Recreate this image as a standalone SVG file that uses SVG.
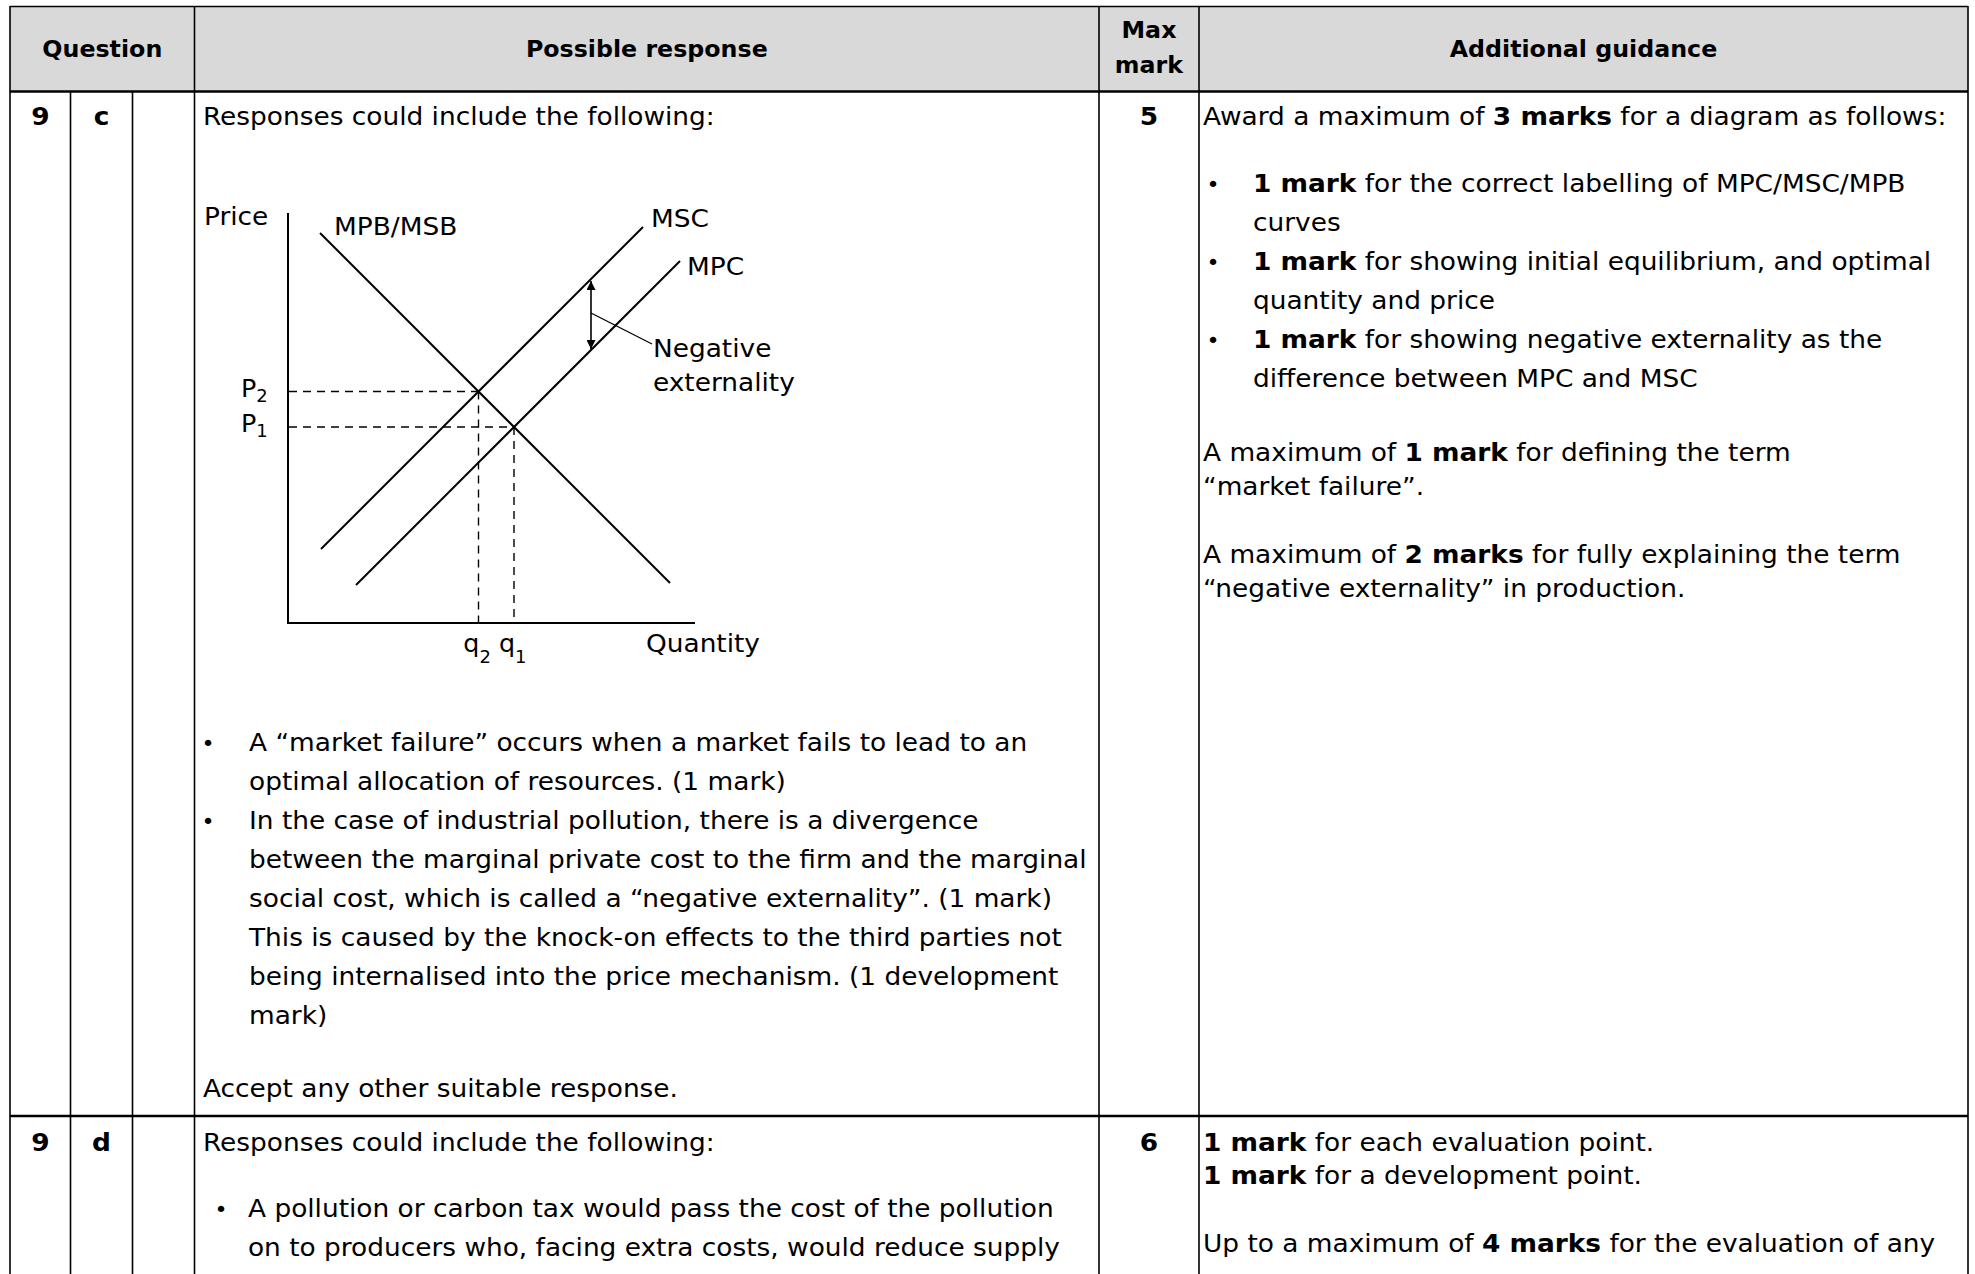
<svg xmlns="http://www.w3.org/2000/svg" width="1975" height="1274" viewBox="0 0 1975 1274">
<style>
text{font-family:"DejaVu Sans","Liberation Sans",sans-serif;fill:#000}
.b{font-size:25px}
.h{font-size:23.5px;font-weight:700}
.bd{font-weight:700}
.c{text-anchor:middle}
.bl{font-size:21px;text-anchor:middle}
.pl{font-size:24px}
.sub{font-size:17px}
.grid{stroke:#000;stroke-width:1.6;fill:none}
.thick{stroke:#000;stroke-width:2.6;fill:none}
.crv{stroke:#000;stroke-width:2;fill:none}
.dash{stroke:#000;stroke-width:1.4;stroke-dasharray:8 6;fill:none}
</style>
<defs>
<marker id="ah" viewBox="0 0 10 10" refX="10" refY="5" markerUnits="userSpaceOnUse" markerWidth="14" markerHeight="9" orient="auto-start-reverse">
<path d="M0,0 L10,5 L0,10 z" fill="#000"/>
</marker>
</defs>
<rect width="1975" height="1274" fill="#fff"/>
<g id="table">
<rect x="10" y="6.5" width="1958" height="85" fill="#d9d9d9"/>
<line class="grid" x1="10" y1="6.5" x2="1968" y2="6.5"/>
<line class="thick" x1="10" y1="91.5" x2="1968" y2="91.5"/>
<line class="thick" x1="10" y1="1116" x2="1968" y2="1116"/>
<line class="grid" x1="10" y1="6" x2="10" y2="1274"/>
<line class="grid" x1="70.5" y1="91.5" x2="70.5" y2="1274"/>
<line class="grid" x1="132.5" y1="91.5" x2="132.5" y2="1274"/>
<line class="grid" x1="194.5" y1="6" x2="194.5" y2="1274"/>
<line class="grid" x1="1099" y1="6" x2="1099" y2="1274"/>
<line class="grid" x1="1199" y1="6" x2="1199" y2="1274"/>
<line class="grid" x1="1968" y1="6" x2="1968" y2="1274"/>
</g>
<g id="header">
<g transform="scale(1.01 1)">
<text class="h c" x="101.3" y="57">Question</text>
<text class="h c" x="640.4" y="57">Possible response</text>
<text class="h c" x="1137.6" y="38">Max</text>
<text class="h c" x="1137.6" y="73">mark</text>
<text class="h c" x="1567.8" y="57">Additional guidance</text>
</g>
</g>
<g id="row-9c">
<g transform="scale(1.056 1)">
<text class="b bd c" x="38.35" y="125">9</text>
<text class="b bd c" x="96.12" y="125">c</text>
<text class="b bd c" x="1088.07" y="125">5</text>
<text class="b" x="192.23" y="125">Responses could include the following:</text>
<text class="bl" x="196.97" y="751">•</text>
<text class="b" x="235.8" y="751">A “market failure” occurs when a market fails to lead to an</text>
<text class="b" x="235.8" y="790">optimal allocation of resources. (1 mark)</text>
<text class="bl" x="196.97" y="829">•</text>
<text class="b" x="235.8" y="829">In the case of industrial pollution, there is a divergence</text>
<text class="b" x="235.8" y="868">between the marginal private cost to the firm and the marginal</text>
<text class="b" x="235.8" y="907">social cost, which is called a “negative externality”. (1 mark)</text>
<text class="b" x="235.8" y="946">This is caused by the knock-on effects to the third parties not</text>
<text class="b" x="235.8" y="985">being internalised into the price mechanism. (1 development</text>
<text class="b" x="235.8" y="1024">mark)</text>
<text class="b" x="192.23" y="1097">Accept any other suitable response.</text>
<text class="b" x="1139.2" y="125">Award a maximum of <tspan class="bd">3 marks</tspan> for a diagram as follows:</text>
<text class="bl" x="1148.67" y="192">•</text>
<text class="b" x="1186.55" y="192"><tspan class="bd">1 mark</tspan> for the correct labelling of MPC/MSC/MPB</text>
<text class="b" x="1186.55" y="231">curves</text>
<text class="bl" x="1148.67" y="270">•</text>
<text class="b" x="1186.55" y="270"><tspan class="bd">1 mark</tspan> for showing initial equilibrium, and optimal</text>
<text class="b" x="1186.55" y="309">quantity and price</text>
<text class="bl" x="1148.67" y="348">•</text>
<text class="b" x="1186.55" y="348"><tspan class="bd">1 mark</tspan> for showing negative externality as the</text>
<text class="b" x="1186.55" y="387">difference between MPC and MSC</text>
<text class="b" x="1139.2" y="461">A maximum of <tspan class="bd">1 mark</tspan> for defining the term</text>
<text class="b" x="1139.2" y="495">“market failure”.</text>
<text class="b" x="1139.2" y="563">A maximum of <tspan class="bd">2 marks</tspan> for fully explaining the term</text>
<text class="b" x="1139.2" y="597">“negative externality” in production.</text>
</g>
</g>
<g id="diagram">
<line class="crv" x1="288" y1="213" x2="288" y2="623"/>
<line class="crv" x1="287" y1="623" x2="695" y2="623"/>
<line class="crv" x1="320" y1="233" x2="670" y2="583"/>
<line class="crv" x1="321" y1="549" x2="643" y2="227"/>
<line class="crv" x1="356" y1="585" x2="680" y2="261"/>
<line class="dash" x1="289" y1="391.5" x2="478.5" y2="391.5"/>
<line class="dash" x1="289" y1="427" x2="514" y2="427"/>
<line class="dash" x1="478.5" y1="391.5" x2="478.5" y2="622"/>
<line class="dash" x1="514" y1="427" x2="514" y2="622"/>
<line stroke="#000" stroke-width="1.6" x1="591" y1="281" x2="591" y2="349" marker-start="url(#ah)" marker-end="url(#ah)"/>
<line stroke="#000" stroke-width="1.3" x1="591" y1="313" x2="652" y2="344"/>
<g transform="scale(1.056 1)">
<text class="b" x="193.18" y="225">Price</text>
<text class="b" x="316.29" y="235">MPB/MSB</text>
<text class="b" x="616.48" y="227">MSC</text>
<text class="b" x="650.57" y="275">MPC</text>
<text class="b" x="618.37" y="357">Negative</text>
<text class="b" x="618.37" y="391">externality</text>
<text class="pl" x="228.2" y="397">P<tspan class="sub" dy="5">2</tspan></text>
<text class="pl" x="228.2" y="432">P<tspan class="sub" dy="5">1</tspan></text>
<text class="pl" x="438.8" y="652">q<tspan class="sub" dy="11">2</tspan></text>
<text class="pl" x="472.5" y="652">q<tspan class="sub" dy="11">1</tspan></text>
<text class="b" x="611.74" y="652">Quantity</text>
</g>
</g>
<g id="row-9d">
<g transform="scale(1.056 1)">
<text class="b bd c" x="38.35" y="1151">9</text>
<text class="b bd c" x="96.12" y="1151">d</text>
<text class="b bd c" x="1088.07" y="1151">6</text>
<text class="b" x="192.23" y="1151">Responses could include the following:</text>
<text class="bl" x="209.28" y="1217">•</text>
<text class="b" x="234.85" y="1217">A pollution or carbon tax would pass the cost of the pollution</text>
<text class="b" x="234.85" y="1256">on to producers who, facing extra costs, would reduce supply</text>
<text class="b" x="1139.2" y="1151"><tspan class="bd">1 mark</tspan> for each evaluation point.</text>
<text class="b" x="1139.2" y="1184"><tspan class="bd">1 mark</tspan> for a development point.</text>
<text class="b" x="1139.2" y="1252">Up to a maximum of <tspan class="bd">4 marks</tspan> for the evaluation of any</text>
</g>
</g>
</svg>
